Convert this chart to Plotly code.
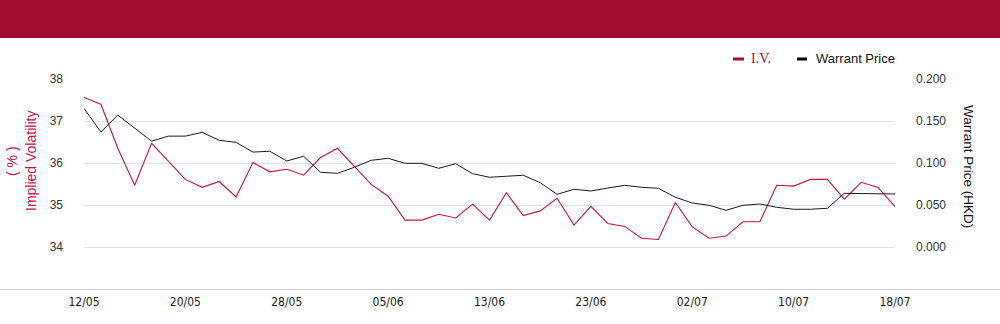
import plotly.graph_objects as go

dates = ["12/05","13/05","14/05","15/05","16/05","19/05","20/05","21/05","22/05","23/05",
         "26/05","27/05","28/05","29/05","30/05","02/06","03/06","04/06","05/06","06/06",
         "09/06","10/06","11/06","12/06","13/06","16/06","17/06","18/06","19/06","20/06",
         "23/06","24/06","25/06","26/06","27/06","30/06","02/07","03/07","04/07","07/07",
         "08/07","09/07","10/07","11/07","14/07","15/07","16/07","17/07","18/07"]

iv = [37.56, 37.40, 36.35, 35.47, 36.47, 36.04, 35.61, 35.42, 35.56, 35.19,
      36.01, 35.79, 35.85, 35.71, 36.13, 36.35, 35.92, 35.49, 35.21, 34.64,
      34.64, 34.78, 34.69, 35.02, 34.64, 35.29, 34.75, 34.86, 35.16, 34.52,
      34.97, 34.56, 34.49, 34.21, 34.18, 35.06, 34.48, 34.21, 34.26, 34.60,
      34.60, 35.47, 35.45, 35.61, 35.61, 35.14, 35.54, 35.42, 34.96]

price = [0.165, 0.137, 0.157, 0.142, 0.126, 0.132, 0.132, 0.1365, 0.127, 0.1246,
         0.113, 0.114, 0.1024, 0.108, 0.089, 0.0877, 0.0949, 0.1032, 0.1056, 0.0996,
         0.0996, 0.0937, 0.0992, 0.0873, 0.083, 0.0842, 0.0854, 0.0766, 0.0627, 0.0687,
         0.0667, 0.0702, 0.0734, 0.0711, 0.0699, 0.0592, 0.0524, 0.0496, 0.0437, 0.0496,
         0.0512, 0.0473, 0.0449, 0.0449, 0.0461, 0.0639, 0.0639, 0.0631, 0.0631]

tick_idx = [0, 6, 12, 18, 24, 30, 36, 42, 48]
iv_ticks = [34, 35, 36, 37, 38]
price_ticks = [0.0, 0.05, 0.10, 0.15, 0.20]

RED_LINE = "#C81446"
RED_DARK = "#A50E33"
W, H = 1000, 324
ML, MR, MT, MB = 84, 105, 79, 35
PW, PH = W - ML - MR, H - MT - MB

def px_x(p):
    return (p - ML) / PW

def px_y(p):
    return 1 - (p - MT) / PH

x = list(range(len(dates)))

fig = go.Figure()
fig.add_trace(go.Scatter(x=x, y=price, name="Warrant Price", yaxis="y2",
                         mode="lines", line=dict(color="#1a1a1a", width=1)))
fig.add_trace(go.Scatter(x=x, y=iv, name="I.V.", mode="lines",
                         line=dict(color=RED_LINE, width=1.1)))

tick_font = dict(family="Liberation Sans, Arial, sans-serif", size=12, color="#333333")

fig.update_layout(
    width=W, height=H,
    margin=dict(l=ML, r=MR, t=MT, b=MB),
    paper_bgcolor="white", plot_bgcolor="white",
    showlegend=False,
    xaxis=dict(range=[0, len(dates) - 1], tickvals=[x[i] for i in tick_idx],
               ticktext=[dates[i] for i in tick_idx], showgrid=False, zeroline=False,
               showline=False, ticks="", ticklabelstandoff=4,
               tickfont=dict(family="DejaVu Sans Condensed, DejaVu Sans, sans-serif",
                             size=12, color="#222222")),
    yaxis=dict(range=[33, 38], tickvals=iv_ticks, showgrid=True, gridcolor="#e3e3e3",
               gridwidth=1, zeroline=False, showline=False, ticks="",
               ticklabelstandoff=20, tickfont=tick_font),
    yaxis2=dict(range=[-0.05, 0.2], tickvals=price_ticks, tickformat=".3f",
                overlaying="y", side="right", showgrid=False, zeroline=False,
                showline=False, ticks="", ticklabelstandoff=20, tickfont=tick_font),
    shapes=[
        dict(type="rect", xref="paper", yref="paper", x0=px_x(0), x1=px_x(W),
             y0=px_y(38), y1=px_y(0), fillcolor=RED_DARK, line=dict(width=0), layer="below"),
        dict(type="line", xref="paper", yref="paper", x0=px_x(0), x1=px_x(W),
             y0=px_y(289.5), y1=px_y(289.5), line=dict(color="#cccccc", width=1)),
        dict(type="rect", xref="paper", yref="paper", x0=px_x(733), x1=px_x(744),
             y0=px_y(60.5), y1=px_y(57.5), fillcolor=RED_DARK, line=dict(width=0)),
        dict(type="rect", xref="paper", yref="paper", x0=px_x(797), x1=px_x(807),
             y0=px_y(60.5), y1=px_y(57.5), fillcolor="#000000", line=dict(width=0)),
    ],
    annotations=[
        dict(text="I.V.", xref="paper", yref="paper", x=px_x(749), y=px_y(59),
             xanchor="left", yanchor="middle", showarrow=False,
             font=dict(family="Liberation Serif, serif", size=14, color=RED_DARK)),
        dict(text="Warrant Price", xref="paper", yref="paper", x=px_x(814), y=px_y(59),
             xanchor="left", yanchor="middle", showarrow=False,
             font=dict(family="Liberation Sans, Arial, sans-serif", size=13, color="#111111")),
        dict(text="Implied Volatility", xref="paper", yref="paper", x=px_x(31), y=px_y(161),
             xanchor="center", yanchor="middle", showarrow=False, textangle=-90,
             font=dict(family="Liberation Sans, Arial, sans-serif", size=14, color=RED_LINE)),
        dict(text="( % )", xref="paper", yref="paper", x=px_x(12), y=px_y(161),
             xanchor="center", yanchor="middle", showarrow=False, textangle=-90,
             font=dict(family="Liberation Sans, Arial, sans-serif", size=14, color=RED_LINE)),
        dict(text="Warrant Price (HKD)", xref="paper", yref="paper", x=px_x(969), y=px_y(166),
             xanchor="center", yanchor="middle", showarrow=False, textangle=90,
             font=dict(family="Liberation Sans, Arial, sans-serif", size=13.5, color="#111111")),
    ],
)

fig.write_html("out.html")
